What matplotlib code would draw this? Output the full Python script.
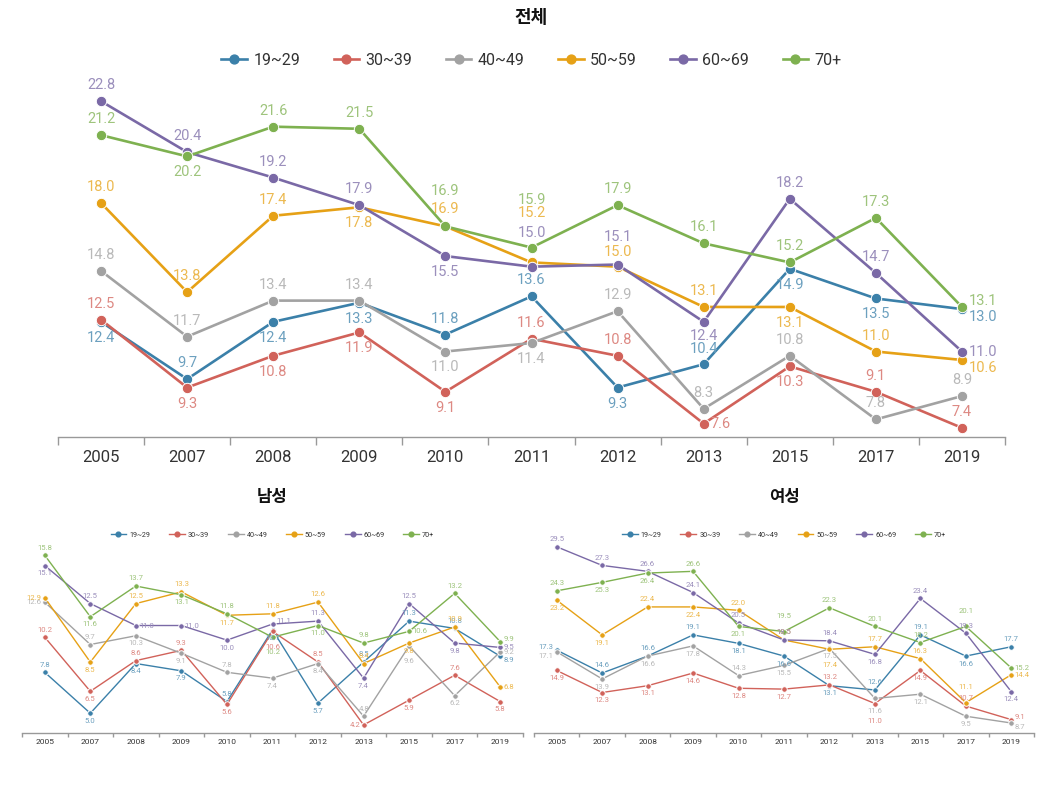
import matplotlib
matplotlib.use('Agg')
import matplotlib.pyplot as plt
import matplotlib.colors as mcolors
from matplotlib.lines import Line2D

plt.rcParams['font.family'] = ['Roboto', 'Noto Sans CJK KR', 'DejaVu Sans']

years = ['2005', '2007', '2008', '2009', '2010', '2011', '2012', '2013', '2015', '2017', '2019']
groups = ['19~29', '30~39', '40~49', '50~59', '60~69', '70+']
colors = ['#3b80a9', '#d1625a', '#a2a2a2', '#e6a116', '#7a69a6', '#7eb150']

# 전체
total_1929 = [12.4, 9.7, 12.4, 13.3, 11.8, 13.6, 9.3, 10.4, 14.9, 13.5, 13.0]
total_3039 = [12.5, 9.3, 10.8, 11.9, 9.1, 11.6, 10.8, 7.6, 10.3, 9.1, 7.4]
total_4049 = [14.8, 11.7, 13.4, 13.4, 11.0, 11.4, 12.9, 8.3, 10.8, 7.8, 8.9]
total_5059 = [18.0, 13.8, 17.4, 17.8, 16.9, 15.2, 15.0, 13.1, 13.1, 11.0, 10.6]
total_6069 = [22.8, 20.4, 19.2, 17.9, 15.5, 15.0, 15.1, 12.4, 18.2, 14.7, 11.0]
total_70 = [21.2, 20.2, 21.6, 21.5, 16.9, 15.9, 17.9, 16.1, 15.2, 17.3, 13.1]

# 남성
male_1929 = [7.8, 5.0, 8.4, 7.9, 5.8, 10.7, 5.7, 8.5, 11.3, 10.8, 8.9]
male_3039 = [10.2, 6.5, 8.6, 9.3, 5.6, 10.6, 8.5, 4.2, 5.9, 7.6, 5.8]
male_4049 = [12.6, 9.7, 10.3, 9.1, 7.8, 7.4, 8.4, 4.8, 9.6, 6.2, 9.2]
male_5059 = [12.9, 8.5, 12.5, 13.3, 11.7, 11.8, 12.6, 8.4, 9.8, 10.9, 6.8]
male_6069 = [15.1, 12.5, 11.0, 11.0, 10.0, 11.1, 11.3, 7.4, 12.5, 9.8, 9.5]
male_70 = [15.8, 11.6, 13.7, 13.1, 11.8, 10.2, 11.0, 9.8, 10.6, 13.2, 9.9]

# 여성
female_1929 = [17.3, 14.6, 16.6, 19.1, 18.1, 16.6, 13.1, 12.6, 19.1, 16.6, 17.7]
female_3039 = [14.9, 12.3, 13.1, 14.6, 12.8, 12.7, 13.2, 11.0, 14.9, 10.7, 9.1]
female_4049 = [17.1, 13.9, 16.6, 17.8, 14.3, 15.5, 17.5, 11.6, 12.1, 9.5, 8.7]
female_5059 = [23.2, 19.1, 22.4, 22.4, 22.0, 18.5, 17.4, 17.7, 16.3, 11.1, 14.4]
female_6069 = [29.5, 27.3, 26.6, 24.1, 20.5, 18.5, 18.4, 16.8, 23.4, 19.3, 12.4]
female_70 = [24.3, 25.3, 26.4, 26.6, 20.1, 19.5, 22.3, 20.1, 18.2, 20.1, 15.2]

# label placement: a=above, b=below, l=left, r=right (la/lb/ra/rb shift up/down)
# an optional number after a/b scales the distance
total_pos = [
    'b a b b a a b a0.95 b b rb'.split(),
    'a b b b b a a r b a a'.split(),
    'a a a a b b a a a a a'.split(),
    'a a a b a1.1 a3.1 a0.9 a b a rb'.split(),
    'a a a a b a2.1 a1.75 b0.9 a a r'.split(),
    'a b a a a2.2 a3 a a a a ra'.split(),
]
male_pos = [
    'a b b b a b b a a a rb'.split(),
    'a b a a b b2 a l b a b'.split(),
    'l a b b a b b a b2 b r'.split(),
    'l b a a b a a a b a r'.split(),
    'b a r r b ra a b a b r'.split(),
    'a b a b a b2 b a r a ra'.split(),
]
female_pos = [
    'la a a a b b b a a b a'.split(),
    'b b b b b b a b2.3 b a ra'.split(),
    'lb b b b a b b b1.7 b b rb'.split(),
    'b b a b a a b2 a a a2 r'.split(),
    'a a a a a a a b a a b'.split(),
    'a b b a b a2 a a a a2 r'.split(),
]


def lighten(c, amt=0.25):
    r, g, b = mcolors.to_rgb(c)
    return (r + (1 - r) * amt, g + (1 - g) * amt, b + (1 - b) * amt)


def offset(code, off):
    k = code[0]
    if k == 'a':
        return 0, off * float(code[1:] or 1), 'center'
    if k == 'b':
        return 0, -off * float(code[1:] or 1), 'center'
    dy = {'a': 0.4, 'b': -0.5}.get(code[1:], 0) * off
    if k == 'l':
        return -off * 0.45, dy, 'right'
    if k == 'r':
        return off * 0.45, dy, 'left'
    return 0, 0, 'center'


def draw(ax, series, pos, ylim, title, title_y, legend_y, fs_tick, fs_lab, fs_leg,
         fs_title, ms, lw, off, hl, cs):
    x = range(len(years))
    for vals, p, c in zip(series, pos, colors):
        ax.plot(x, vals, color=c, lw=lw, marker='o', ms=ms,
                mec='white', mew=0.7, zorder=3)
        for xi, v, k in zip(x, vals, p):
            dx, dy, ha = offset(k, off)
            ax.annotate(f'{v:.1f}', (xi, v), xytext=(dx, dy), textcoords='offset points',
                        ha=ha, va='center', fontsize=fs_lab, color=lighten(c), zorder=4)
    ax.set_xlim(-0.5, len(years) - 0.5)
    ax.set_ylim(*ylim)
    ax.set_xticks(list(x))
    ax.set_xticklabels(years, fontsize=fs_tick, color='#333333')
    ax.set_xticks([i - 0.5 for i in range(len(years) + 1)], minor=True)
    ax.tick_params(axis='x', which='major', length=0, pad=fs_tick * 0.75)
    ax.tick_params(axis='x', which='minor', length=fs_tick * 0.45, color='#999999', width=1)
    ax.set_yticks([])
    for s in ['left', 'right', 'top']:
        ax.spines[s].set_visible(False)
    ax.spines['bottom'].set_color('#999999')
    ax.spines['bottom'].set_linewidth(1)
    handles = [Line2D([0], [0], color=c, lw=lw, marker='o', ms=ms * 0.85,
                      mec=c) for c in colors]
    ax.legend(handles, groups, loc='center', bbox_to_anchor=(0.5, legend_y), ncol=6,
              frameon=False, fontsize=fs_leg, handlelength=hl, handletextpad=0.4,
              columnspacing=cs, labelcolor='#333333')
    ax.text(0.5, title_y, title, transform=ax.transAxes, ha='center', va='center',
            fontsize=fs_title, fontweight='bold', color='#111111',
            family=['Noto Sans CJK KR', 'DejaVu Sans'])


fig = plt.figure(figsize=(10.47, 7.88), dpi=100)

ax1 = fig.add_axes([58 / 1047, 1 - 437 / 788, (1005 - 58) / 1047, (437 - 80) / 788])
draw(ax1, [total_1929, total_3039, total_4049, total_5059, total_6069, total_70],
     total_pos, (6.97, 23.8), '전체', 1.174, 1.056,
     12, 10.5, 11.5, 13, 7.5, 1.9, 11.5, 1.6, 2.1)

ax2 = fig.add_axes([22 / 1047, 1 - 733 / 788, (523 - 22) / 1047, (733 - 548) / 788])
draw(ax2, [male_1929, male_3039, male_4049, male_5059, male_6069, male_70],
     male_pos, (3.65, 16.3), '남성', 1.276, 1.07,
     6, 5.6, 5.2, 12, 4, 1.0, 5.5, 2.2, 2.6)

ax3 = fig.add_axes([534 / 1047, 1 - 733 / 788, (1034 - 534) / 1047, (733 - 540) / 788])
draw(ax3, [female_1929, female_3039, female_4049, female_5059, female_6069, female_70],
     female_pos, (7.52, 30.3), '여성', 1.223, 1.026,
     6, 5.6, 5.2, 12, 4, 1.0, 5.5, 2.2, 2.6)

fig.savefig('out.png', dpi=100, facecolor='white')
